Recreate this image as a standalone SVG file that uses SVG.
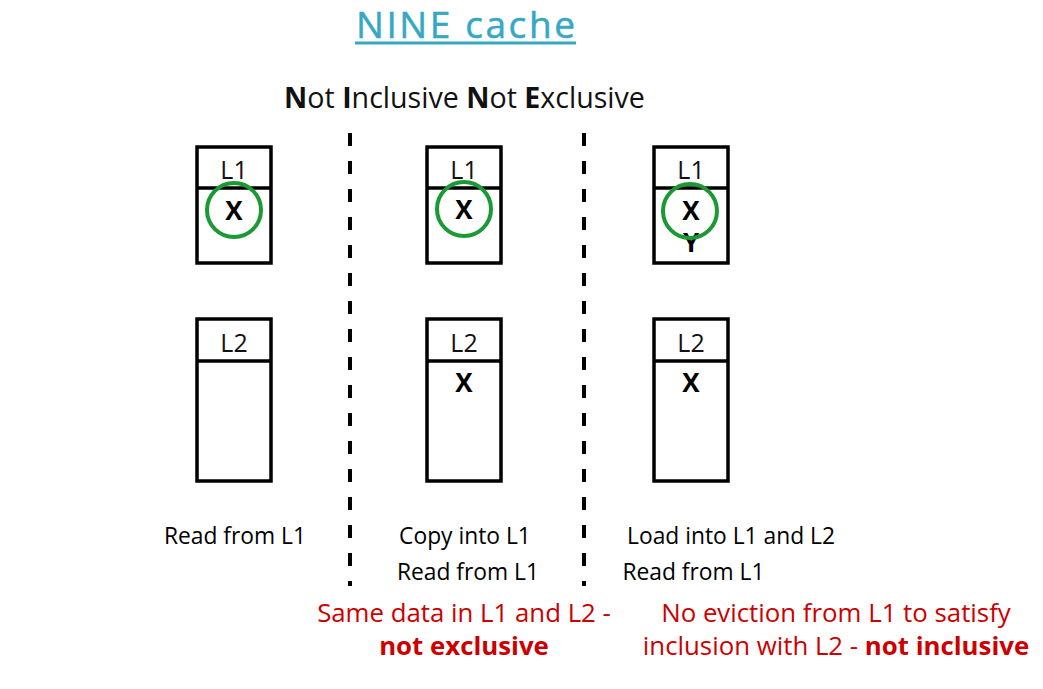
<svg xmlns="http://www.w3.org/2000/svg" width="1043" height="689" viewBox="0 0 1043 689">
<style>
text{font-family:"Open Sans","Liberation Sans",sans-serif;}
.box{fill:none;stroke:#000;stroke-width:3.5;}
.lbl{font-size:25px;fill:#111;text-anchor:middle;}
.x{font-size:26px;font-weight:bold;fill:#000;text-anchor:middle;}
.ring{fill:none;stroke:#1a9934;stroke-width:4;}
.cap{font-size:22.8px;fill:#000;text-anchor:middle;}
.red{font-size:25.8px;fill:#cc0000;text-anchor:middle;}
.sep{stroke:#000;stroke-width:4;stroke-dasharray:13 15;}
</style>
<rect width="1043" height="689" fill="#fff"/>
<g id="title">
<text x="465.5" y="38" font-size="37" font-weight="500" fill="#35a8c4" stroke="#35a8c4" stroke-width="0.5" text-anchor="middle" textLength="219" lengthAdjust="spacing">NINE cache</text>
<line x1="355" y1="43" x2="576" y2="43" stroke="#35a8c4" stroke-width="3"/>
<text x="464.5" y="108" font-size="28.6" fill="#111" text-anchor="middle"><tspan font-weight="bold">N</tspan>ot <tspan font-weight="bold">I</tspan>nclusive <tspan font-weight="bold">N</tspan>ot <tspan font-weight="bold">E</tspan>xclusive</text>
</g>
<g id="separators">
<line class="sep" x1="350" y1="133" x2="350" y2="586"/>
<line class="sep" x1="584" y1="133" x2="584" y2="586"/>
</g>
<g id="col1-L1">
<rect class="box" x="197" y="147" width="74" height="116"/>
<line class="box" x1="197" y1="188" x2="271" y2="188"/>
<text class="lbl" x="234" y="179">L1</text>
<text class="x" x="234" y="220">X</text>
<circle class="ring" cx="234" cy="210" r="27"/>
</g>
<g id="col1-L2">
<rect class="box" x="197" y="319" width="74" height="162"/>
<line class="box" x1="197" y1="361" x2="271" y2="361"/>
<text class="lbl" x="234" y="352">L2</text>
</g>
<g id="col2-L1">
<rect class="box" x="427" y="147" width="74" height="116"/>
<line class="box" x1="427" y1="188" x2="501" y2="188"/>
<text class="lbl" x="464" y="179">L1</text>
<text class="x" x="464" y="219">X</text>
<circle class="ring" cx="464" cy="209" r="27"/>
</g>
<g id="col2-L2">
<rect class="box" x="427" y="319" width="74" height="162"/>
<line class="box" x1="427" y1="361" x2="501" y2="361"/>
<text class="lbl" x="464" y="352">L2</text>
<text class="x" x="464" y="392">X</text>
</g>
<g id="col3-L1">
<rect class="box" x="654" y="147" width="74" height="116"/>
<line class="box" x1="654" y1="188" x2="728" y2="188"/>
<text class="lbl" x="691" y="179">L1</text>
<text class="x" x="691" y="220">X</text>
<text class="x" x="691" y="252">Y</text>
<circle class="ring" cx="690" cy="211" r="27"/>
</g>
<g id="col3-L2">
<rect class="box" x="654" y="319" width="74" height="162"/>
<line class="box" x1="654" y1="361" x2="728" y2="361"/>
<text class="lbl" x="691" y="352">L2</text>
<text class="x" x="691" y="392">X</text>
</g>
<g id="captions">
<text class="cap" x="235" y="544">Read from L1</text>
<text class="cap" x="465" y="544">Copy into L1</text>
<text class="cap" x="468" y="580">Read from L1</text>
<text class="cap" x="731" y="544">Load into L1 and L2</text>
<text class="cap" x="693.5" y="580">Read from L1</text>
</g>
<g id="notes">
<text class="red" x="464" y="622">Same data in L1 and L2 -</text>
<text class="red" x="464" y="655" font-weight="bold">not exclusive</text>
<text class="red" x="836" y="622">No eviction from L1 to satisfy</text>
<text class="red" x="836" y="655">inclusion with L2 - <tspan font-weight="bold">not inclusive</tspan></text>
</g>
</svg>
